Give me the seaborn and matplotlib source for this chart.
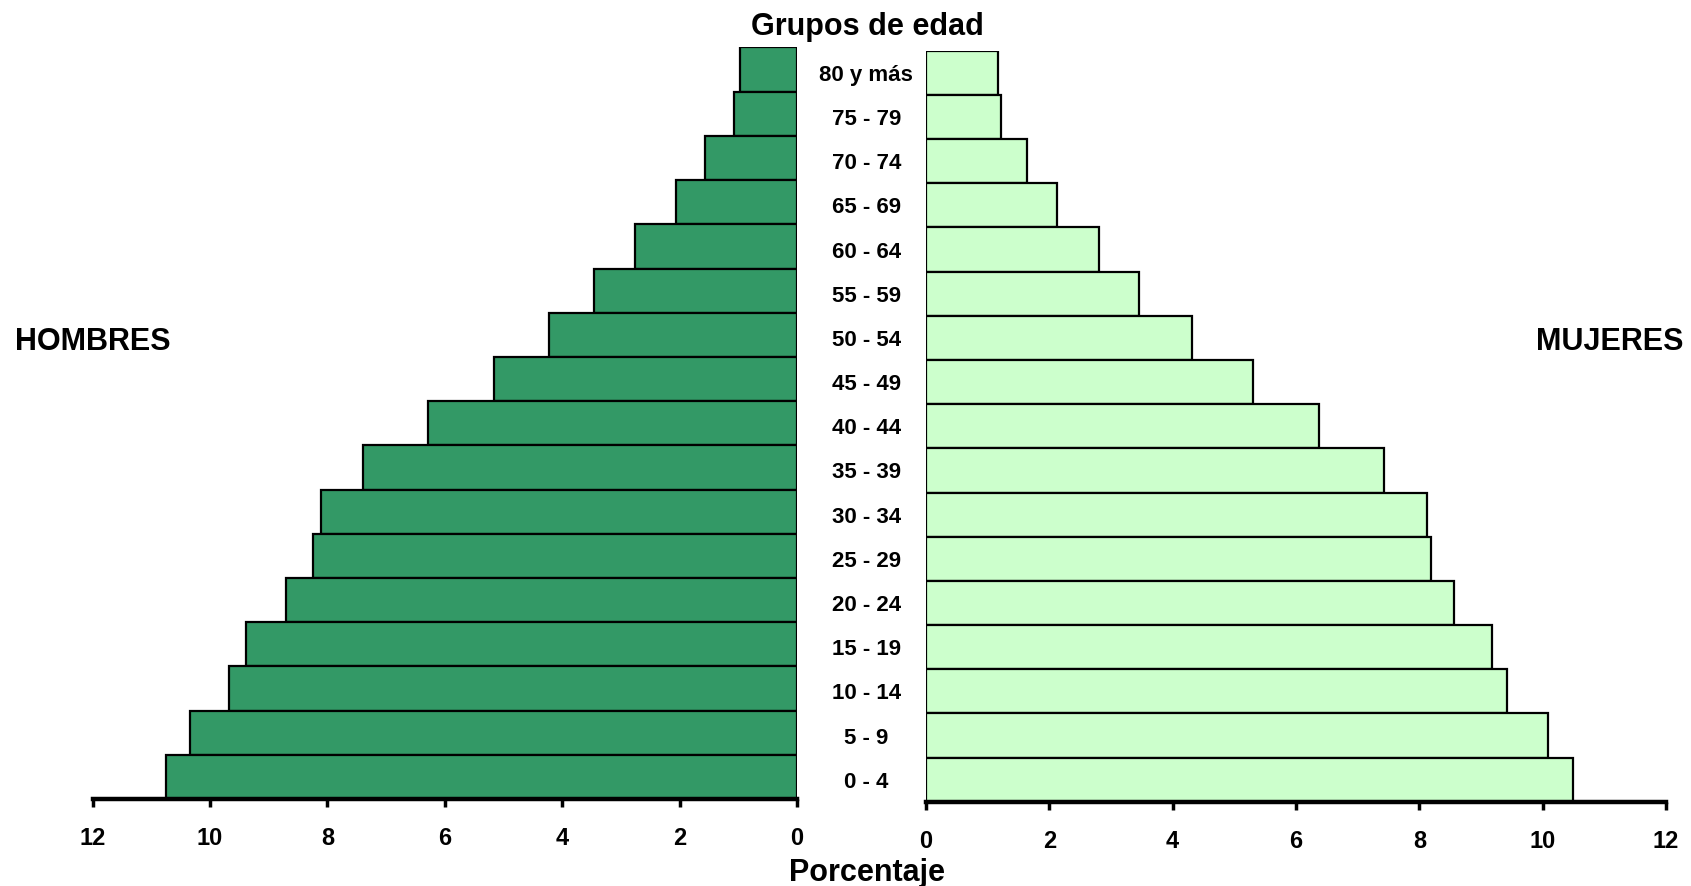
import matplotlib
matplotlib.use("Agg")
import matplotlib.pyplot as plt
import seaborn as sns
import pandas as pd

grupos = ["80 y más", "75 - 79", "70 - 74", "65 - 69", "60 - 64", "55 - 59",
          "50 - 54", "45 - 49", "40 - 44", "35 - 39", "30 - 34", "25 - 29",
          "20 - 24", "15 - 19", "10 - 14", "5 - 9", "0 - 4"]
hombres = [0.97, 1.08, 1.56, 2.06, 2.76, 3.46, 4.23, 5.17, 6.29, 7.39,
           8.11, 8.24, 8.71, 9.39, 9.67, 10.35, 10.75]
mujeres = [1.17, 1.21, 1.64, 2.12, 2.80, 3.45, 4.32, 5.30, 6.38, 7.43,
           8.12, 8.19, 8.57, 9.18, 9.43, 10.08, 10.50]
xticks = [0, 2, 4, 6, 8, 10, 12]

sns.set_theme(style="white")
plt.rcParams['font.family'] = ['Liberation Sans', 'DejaVu Sans']
plt.rcParams['font.weight'] = 'bold'
plt.rcParams['text.color'] = 'black'
plt.rcParams['xtick.color'] = 'black'
plt.rcParams['ytick.color'] = 'black'
plt.rcParams['axes.labelcolor'] = 'black'

fig = plt.figure(figsize=(16.91, 8.86), dpi=100)
ax_l = fig.add_axes([0.0548, 0.0982, 0.4165, 0.8482])
ax_r = fig.add_axes([0.5476, 0.0950, 0.4376, 0.8478])

df_h = pd.DataFrame({"grupo": grupos, "valor": hombres})
df_m = pd.DataFrame({"grupo": grupos, "valor": mujeres})

sns.barplot(data=df_h, x="valor", y="grupo", order=grupos, orient="h", ax=ax_l,
            color="#339966", saturation=1, width=1.0, edgecolor="black", linewidth=1.6)
sns.barplot(data=df_m, x="valor", y="grupo", order=grupos, orient="h", ax=ax_r,
            color="#CCFFCC", saturation=1, width=1.0, edgecolor="black", linewidth=1.6)

ax_l.set_xlim(12, 0)
ax_r.set_xlim(0, 12)

for ax in (ax_l, ax_r):
    ax.set_ylim(len(grupos) - 0.5, -0.5)
    for s in ("top", "left", "right"):
        ax.spines[s].set_visible(False)
    ax.spines["bottom"].set_linewidth(3.2)
    ax.spines["bottom"].set_color("black")
    ax.set_xticks(xticks)
    ax.set_xticklabels([str(t) for t in xticks], fontsize=17, fontweight="bold", color="black")
    ax.tick_params(axis="x", direction="out", length=6, width=2.5, color="black",
                   pad=14, bottom=True)
    ax.set_xlabel("")
    ax.set_ylabel("")
    ax.grid(False)
    ax.set_facecolor("none")

ax_l.set_yticks([])
ax_r.set_yticks(range(len(grupos)))
ax_r.set_yticklabels(grupos, fontsize=16, fontweight="bold", ha="center", color="black")
ax_r.tick_params(axis="y", length=0, pad=43)

fig.text(0.5127, 0.969, "Grupos de edad", ha="center", va="center", fontsize=22, fontweight="bold")
fig.text(0.5127, 0.015, "Porcentaje", ha="center", va="center", fontsize=22, fontweight="bold")
fig.text(0.055, 0.614, "HOMBRES", ha="center", va="center", fontsize=22, fontweight="bold")
fig.text(0.952, 0.614, "MUJERES", ha="center", va="center", fontsize=22, fontweight="bold")

fig.savefig("out.png", dpi=100, facecolor="white")
